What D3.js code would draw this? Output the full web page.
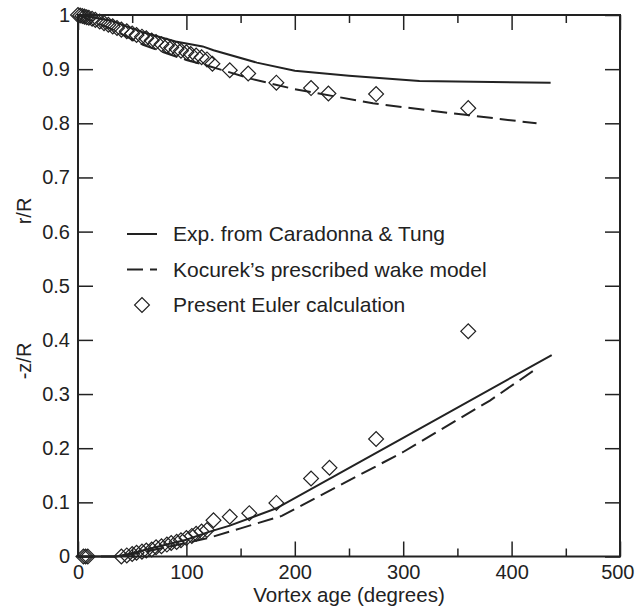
<!DOCTYPE html>
<html>
<head>
<meta charset="utf-8">
<script src="https://cdn.jsdelivr.net/npm/d3@7"></script>
<style>
  body { margin: 0; background: #fff; }
  text { font-family: "Liberation Sans", Arial, sans-serif; fill: #222; }
</style>
</head>
<body>
<svg id="chart"></svg>
<script>
// r/R (upper group)
const expRAge   = [0, 30, 60, 90, 115, 125, 165, 200, 250, 315, 436];
const expR      = [1.0, 0.99, 0.968, 0.951, 0.942, 0.935, 0.912, 0.897, 0.888, 0.878, 0.875];
const kocRAge   = [0, 30, 60, 85, 100, 122, 160, 200, 272, 335, 423];
const kocR      = [1.0, 0.975, 0.945, 0.927, 0.917, 0.905, 0.882, 0.863, 0.837, 0.821, 0.800];
const eulRAge   = [0, 2, 4, 6, 8, 10, 13, 16, 20, 24, 28, 32, 36, 40, 45, 50, 54, 59, 63, 68, 72, 77,
                   82, 86, 91, 95, 100, 104, 109, 114, 119, 124, 140, 157, 183, 215, 231, 275, 360];
const eulR      = [1.0, 0.999, 0.998, 0.997, 0.996, 0.995, 0.993, 0.991, 0.988, 0.985, 0.982, 0.979,
                   0.976, 0.973, 0.970, 0.966, 0.963, 0.960, 0.957, 0.953, 0.950, 0.946, 0.943, 0.940,
                   0.937, 0.934, 0.931, 0.928, 0.925, 0.922, 0.918, 0.910, 0.898, 0.892, 0.875, 0.865,
                   0.855, 0.854, 0.828];

// -z/R (lower group)
const expZAge   = [0, 35, 50, 75, 100, 120, 140, 183, 300, 437];
const expZ      = [0, 0, 0.006, 0.019, 0.031, 0.045, 0.057, 0.089, 0.219, 0.372];
const kocZAge   = [0, 40, 60, 90, 120, 150, 188, 300, 380, 423];
const kocZ      = [0, 0, 0.008, 0.021, 0.034, 0.052, 0.075, 0.193, 0.288, 0.347];
const eulZAge   = [5, 7, 9, 40, 45, 50, 54, 59, 63, 68, 72, 77, 82, 86, 91, 95, 100, 105, 109, 114,
                   119, 125, 140, 158, 183, 215, 232, 275, 360];
const eulZ      = [0, 0, 0, 0, 0.002, 0.0046, 0.007, 0.009, 0.011, 0.013, 0.017, 0.019, 0.022, 0.025,
                   0.027, 0.030, 0.034, 0.038, 0.042, 0.046, 0.049, 0.067, 0.0735, 0.080, 0.099,
                   0.144, 0.164, 0.217, 0.416];

const xMajor = [0, 100, 200, 300, 400, 500];
const xMinor = [50, 150, 250, 350, 450];
const yTicks = [0, 0.1, 0.2, 0.3, 0.4, 0.5, 0.6, 0.7, 0.8, 0.9, 1];
const legendLabels = ["Exp. from Caradonna & Tung", "Kocurek\u2019s prescribed wake model", "Present Euler calculation"];

const width = 635, height = 609;
const mLeft = 78, mRight = 620, mTop = 15, mBottom = 556.5;
const ink = "#222";

const svg = d3.select("#chart").attr("width", width).attr("height", height);

const x = d3.scaleLinear().domain([0, 500]).range([mLeft, mRight]);
const y = d3.scaleLinear().domain([0, 1]).range([mBottom, mTop]);

const zip = (a, b) => a.map((v, i) => [v, b[i]]);
const line = d3.line().x(d => x(d[0])).y(d => y(d[1]));
const fmtY = d => (d === 0 ? "0" : d === 1 ? "1" : d.toFixed(1));

function styleAxis(g) {
    g.select(".domain").remove();
    g.selectAll("line").attr("stroke", ink).attr("stroke-width", 1.5);
    g.selectAll("text").attr("font-size", 20).attr("fill", ink)
        .style("font-family", "'Liberation Sans', Arial, sans-serif");
}

// axes: ticks point inward
svg.append("g").attr("transform", `translate(0,${mBottom})`)
    .call(d3.axisBottom(x).tickValues(xMajor).tickSizeInner(-15).tickSizeOuter(0).tickPadding(8))
    .call(styleAxis)
    .call(g => g.selectAll(".tick text").filter(d => d === 500)
        .attr("text-anchor", "end").attr("x", 14));   // keep last label inside the page
svg.append("g").attr("transform", `translate(0,${mBottom})`)
    .call(d3.axisBottom(x).tickValues(xMinor).tickSizeInner(-8).tickSizeOuter(0).tickFormat(""))
    .call(styleAxis);
svg.append("g").attr("transform", `translate(0,${mTop})`)
    .call(d3.axisTop(x).tickValues(xMajor).tickSizeInner(-15).tickSizeOuter(0).tickFormat(""))
    .call(styleAxis);
svg.append("g").attr("transform", `translate(0,${mTop})`)
    .call(d3.axisTop(x).tickValues(xMinor).tickSizeInner(-8).tickSizeOuter(0).tickFormat(""))
    .call(styleAxis);
svg.append("g").attr("transform", `translate(${mLeft},0)`)
    .call(d3.axisLeft(y).tickValues(yTicks).tickSizeInner(-15).tickSizeOuter(0).tickPadding(8).tickFormat(fmtY))
    .call(styleAxis);
svg.append("g").attr("transform", `translate(${mRight},0)`)
    .call(d3.axisRight(y).tickValues(yTicks).tickSizeInner(-15).tickSizeOuter(0).tickFormat(""))
    .call(styleAxis);

// frame
svg.append("rect")
    .attr("x", mLeft).attr("y", mTop)
    .attr("width", mRight - mLeft).attr("height", mBottom - mTop)
    .attr("fill", "none").attr("stroke", ink).attr("stroke-width", 2);

// curves
const dash = "16,7";
[[expRAge, expR, null], [kocRAge, kocR, dash], [expZAge, expZ, null], [kocZAge, kocZ, dash]]
    .forEach(([a, b, da]) => {
        svg.append("path")
            .datum(zip(a, b))
            .attr("d", line)
            .attr("fill", "none")
            .attr("stroke", ink)
            .attr("stroke-width", 2)
            .attr("stroke-dasharray", da);
    });

// diamonds
const diamond = d3.symbol().type(d3.symbolSquare).size(110);
[[eulRAge, eulR], [eulZAge, eulZ]].forEach(([a, b]) => {
    svg.append("g").selectAll("path")
        .data(zip(a, b))
        .enter().append("path")
        .attr("d", diamond)
        .attr("transform", d => `translate(${x(d[0])},${y(d[1])}) rotate(45)`)
        .attr("fill", "none")
        .attr("stroke", ink)
        .attr("stroke-width", 1.2);
});

// legend
const lg = svg.append("g");
const rowY = [234, 269.5, 305];
lg.append("line").attr("x1", 127).attr("x2", 157).attr("y1", rowY[0]).attr("y2", rowY[0])
    .attr("stroke", ink).attr("stroke-width", 2);
lg.append("line").attr("x1", 127).attr("x2", 157).attr("y1", rowY[1]).attr("y2", rowY[1])
    .attr("stroke", ink).attr("stroke-width", 2).attr("stroke-dasharray", dash);
lg.append("path").attr("d", diamond)
    .attr("transform", `translate(142,${rowY[2]}) rotate(45)`)
    .attr("fill", "none").attr("stroke", ink).attr("stroke-width", 1.2);
lg.selectAll("text.leg")
    .data(legendLabels)
    .enter().append("text")
    .attr("class", "leg")
    .attr("x", 173)
    .attr("y", (d, i) => rowY[i] + 7)
    .attr("font-size", 21)
    .text(d => d);

// axis titles
svg.append("text")
    .attr("x", (mLeft + mRight) / 2).attr("y", 602)
    .attr("text-anchor", "middle").attr("font-size", 20.5)
    .text("Vortex age (degrees)");
svg.append("text")
    .attr("transform", "translate(31,211) rotate(-90)")
    .attr("text-anchor", "middle").attr("font-size", 20)
    .text("r/R");
svg.append("text")
    .attr("transform", "translate(31,361) rotate(-90)")
    .attr("text-anchor", "middle").attr("font-size", 20)
    .text("-z/R");
</script>
</body>
</html>
